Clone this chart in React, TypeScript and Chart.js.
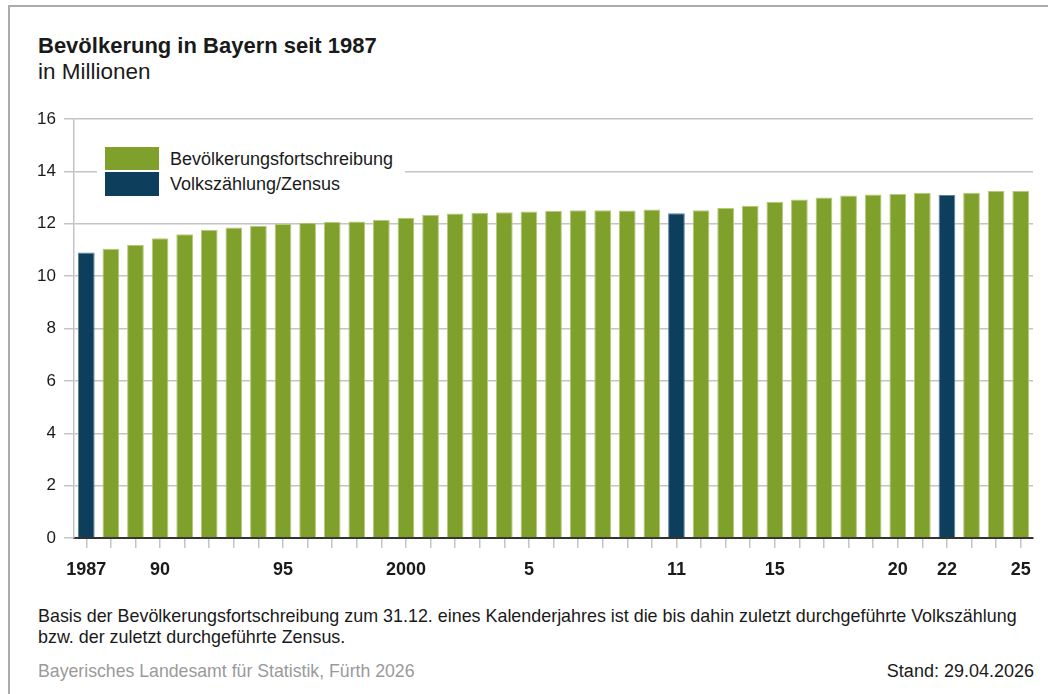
import React, { useEffect, useRef } from "react";
import { Chart, registerables } from "chart.js";

Chart.register(...registerables);

const years: string[] = [
  "1987", "1988", "1989", "1990", "1991", "1992", "1993", "1994", "1995", "1996",
  "1997", "1998", "1999", "2000", "2001", "2002", "2003", "2004", "2005", "2006",
  "2007", "2008", "2009", "2010", "2011", "2012", "2013", "2014", "2015", "2016",
  "2017", "2018", "2019", "2020", "2021", "2022", "2023", "2024", "2025",
];

const population: number[] = [
  10.9, 11.05, 11.2, 11.45, 11.6, 11.77, 11.86, 11.92, 11.99, 12.04,
  12.07, 12.09, 12.15, 12.23, 12.33, 12.39, 12.42, 12.44, 12.47, 12.49,
  12.52, 12.52, 12.51, 12.54, 12.4, 12.52, 12.6, 12.69, 12.84, 12.93,
  13.0, 13.08, 13.12, 13.14, 13.18, 13.1, 13.18, 13.25, 13.25,
];

const censusYears: string[] = ["1987", "2011", "2022"];

const tickLabels: Record<string, string> = {
  "1987": "1987", "1990": "90", "1995": "95", "2000": "2000", "2005": "5",
  "2011": "11", "2015": "15", "2020": "20", "2022": "22", "2025": "25",
};

const legendItems: string[] = ["Bevölkerungsfortschreibung", "Volkszählung/Zensus"];

const GREEN = "#80a02c";
const BLUE = "#0d3f5c";
const FONT = "'Liberation Sans', Arial, Helvetica, sans-serif";

export default function App() {
  const canvasRef = useRef<HTMLCanvasElement | null>(null);

  useEffect(() => {
    if (!canvasRef.current) return;
    const isCensus = years.map((y) => censusYears.includes(y));
    const chart = new Chart(canvasRef.current, {
      type: "bar",
      data: {
        labels: years,
        datasets: [
          {
            data: population,
            backgroundColor: isCensus.map((c) => (c ? BLUE : GREEN)),
            borderColor: isCensus.map((c) => (c ? "#5f8396" : "#b3cb7a")),
            borderWidth: 1,
            barPercentage: 0.68,
            categoryPercentage: 1,
          },
        ],
      },
      options: {
        responsive: false,
        animation: false,
        maintainAspectRatio: false,
        layout: { padding: { top: 19, right: 15, left: 0, bottom: 0 } },
        plugins: {
          legend: { display: false },
          tooltip: { enabled: false },
          title: { display: false },
        },
        scales: {
          x: {
            offset: true,
            grid: {
              offset: false,
              drawOnChartArea: false,
              drawTicks: true,
              tickLength: 10,
              color: "#c4c4c4",
              lineWidth: 1.5,
            },
            border: { display: true, color: "#333333", width: 2 },
            ticks: {
              autoSkip: false,
              maxRotation: 0,
              padding: 11,
              color: "#1a1a1a",
              font: { family: FONT, size: 18, weight: "bold" },
              callback: (_v: any, i: number) => tickLabels[years[i]] || "",
            },
            afterFit: (s: any) => {
              s.height = 52;
            },
          },
          y: {
            min: 0,
            max: 16,
            grid: {
              color: "#c4c4c4",
              lineWidth: 1.5,
              tickLength: 10,
            },
            border: { display: true, color: "#c4c4c4", width: 1.5 },
            ticks: {
              stepSize: 2,
              padding: 8,
              color: "#1a1a1a",
              font: { family: FONT, size: 17 },
            },
            afterFit: (s: any) => {
              s.width = 74;
            },
          },
        },
      },
    });
    return () => chart.destroy();
  }, []);

  return (
    <div
      style={{
        position: "absolute",
        left: 0,
        top: 0,
        width: 1048,
        height: 694,
        background: "#fff",
        fontFamily: FONT,
        color: "#1a1a1a",
        overflow: "hidden",
      }}
    >
      <div
        style={{
          position: "absolute",
          left: 8,
          top: 5,
          width: 1100,
          height: 800,
          borderTop: "2px solid #ababab",
          borderLeft: "2px solid #ababab",
        }}
      />
      <div style={{ position: "absolute", left: 38, top: 33, fontSize: 22, fontWeight: "bold", whiteSpace: "nowrap" }}>
        Bevölkerung in Bayern seit 1987
      </div>
      <div style={{ position: "absolute", left: 38, top: 59, fontSize: 22.5, whiteSpace: "nowrap" }}>
        in Millionen
      </div>
      <canvas
        ref={canvasRef}
        width={1048}
        height={490}
        style={{ position: "absolute", left: 0, top: 100, width: 1048, height: 490 }}
      />
      <div
        style={{
          position: "absolute",
          left: 97,
          top: 143,
          width: 308,
          height: 56,
          background: "#fff",
        }}
      >
        {legendItems.map((t, i) => (
          <div key={t} style={{ position: "absolute", left: 8, top: 4 + i * 25, height: 24, display: "flex", alignItems: "center" }}>
            <div style={{ width: 54, height: 24, background: i === 0 ? GREEN : BLUE, borderBottom: i === 0 ? "1px solid #fff" : "none", boxSizing: "border-box" }} />
            <div style={{ marginLeft: 11, fontSize: 18, whiteSpace: "nowrap" }}>{t}</div>
          </div>
        ))}
      </div>
      <div style={{ position: "absolute", left: 38, top: 606, fontSize: 17.9, lineHeight: "21px", width: 1010, whiteSpace: "nowrap" }}>
        Basis der Bevölkerungsfortschreibung zum 31.12. eines Kalenderjahres ist die bis dahin zuletzt durchgeführte Volkszählung
        <br />
        bzw. der zuletzt durchgeführte Zensus.
      </div>
      <div style={{ position: "absolute", left: 38, top: 661, fontSize: 17.7, color: "#9a9a9a", whiteSpace: "nowrap" }}>
        Bayerisches Landesamt für Statistik, Fürth 2026
      </div>
      <div style={{ position: "absolute", right: 14, top: 661, fontSize: 18, color: "#1a1a1a", whiteSpace: "nowrap" }}>
        Stand: 29.04.2026
      </div>
    </div>
  );
}
